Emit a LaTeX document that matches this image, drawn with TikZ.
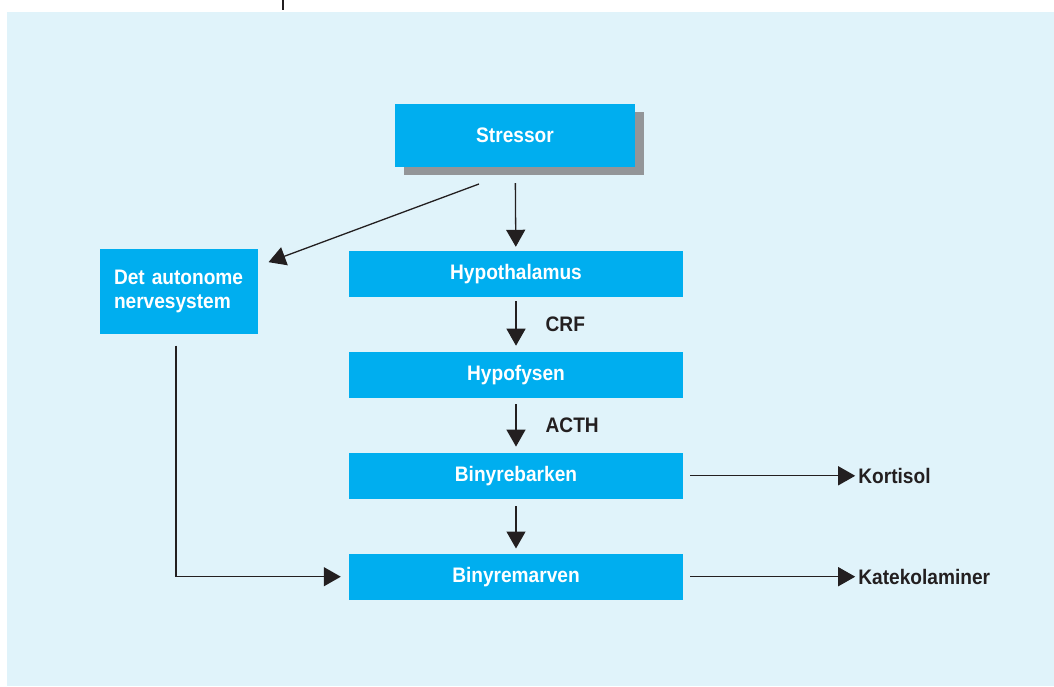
\documentclass[tikz,border=0pt]{standalone}
\usepackage{fontspec}
\setmainfont{Liberation Sans}[FakeStretch=0.91]
\usetikzlibrary{positioning,arrows.meta,shadows}

\definecolor{boxblue}{HTML}{00AEEF}
\definecolor{bgblue}{HTML}{E0F3FA}
\definecolor{shadowgray}{HTML}{939598}
\definecolor{ink}{HTML}{231F20}

\begin{document}
\begin{tikzpicture}[
  x=1pt, y=-1pt,
  node distance=54.5pt and 1cm,
  every node/.style={font=\bfseries\fontsize{21}{24}\selectfont},
  mainbox/.style={fill=boxblue,text=white,minimum width=334pt,minimum height=46pt,inner sep=0pt},
  sidebox/.style={fill=boxblue,text=white,text width=130pt,align=left,inner xsep=14pt,minimum height=85pt},
  lbl/.style={text=ink,inner sep=3pt},
  arr/.style={draw=ink,line width=1.3pt,-{Triangle[width=19pt,length=17pt]}}
]
\useasboundingbox (0,0) rectangle (1054,687);
\fill[bgblue] (7,12) rectangle (1054,686);
\draw[ink,line width=1.5pt] (283,0) -- (283,10);

\node[mainbox,minimum width=240pt,minimum height=63pt,
  drop shadow={shadow xshift=9pt,shadow yshift=-8pt,fill=shadowgray,opacity=1}] (stressor) at (515,135.5) {Stressor};

\node[mainbox] (hypo) at (516,274) {Hypothalamus};
\node[mainbox,below =of hypo] (hypof) {Hypofysen};
\node[mainbox,below =of hypof] (binb) {Binyrebarken};
\node[mainbox,below =of binb] (binm) {Binyremarven};

\node[sidebox] (ans) at (179,291) {Det autonome\\nervesystem};

\node[lbl,right=172pt of binb] (kort) {Kortisol};
\node[lbl,right=172pt of binm] (kat) {Katekolaminer};

\coordinate (diagstart) at (479,184);

\path (stressor) edge[arr,shorten <=16pt,shorten >=4pt] (hypo)
(hypo) edge[arr,shorten <=4pt,shorten >=6pt] node[lbl,right=26pt] (crf) {CRF} (hypof)
(hypof) edge[arr,shorten <=6pt,shorten >=6pt] node[lbl,right=26pt] (acth) {ACTH} (binb)
(binb) edge[arr,shorten <=7pt,shorten >=5pt] (binm);

\draw[arr,shorten >=11pt] (diagstart) -- ([yshift=25pt]ans.east);
\draw[arr,shorten >=8pt] ([xshift=-3pt,yshift=-12pt]ans.south) |- (binm.west);
\draw[arr] ([xshift=7pt]binb.east) -- (kort);
\draw[arr] ([xshift=7pt]binm.east) -- (kat);

\end{tikzpicture}
\end{document}
